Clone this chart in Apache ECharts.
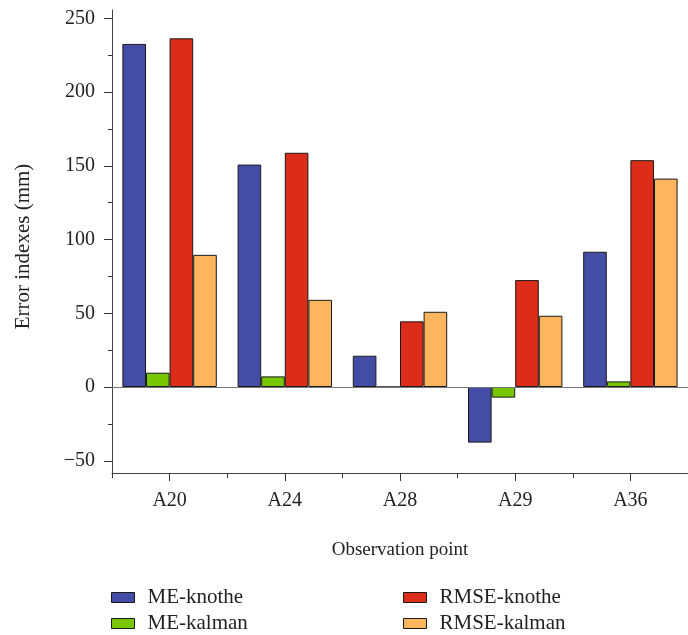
<!DOCTYPE html>
<html>
<head>
<meta charset="utf-8">
<script src="https://cdn.jsdelivr.net/npm/echarts@6/dist/echarts.min.js"></script>
<style>html,body{margin:0;padding:0;background:#fff}#c{width:688px;height:635px}</style>
</head>
<body>
<div id="c"></div>
<script>
var categories = ['A20', 'A24', 'A28', 'A29', 'A36'];
var meKnothe = [232.6, 150.8, 21.2, -37.7, 91.7];
var meKalman = [9.7, 7.2, 0, -7.2, 3.8];
var rmseKnothe = [236.4, 158.8, 44.5, 72.5, 153.8];
var rmseKalman = [89.6, 59.1, 51.0, 48.3, 141.3];
var seriesNames = ['ME-knothe', 'ME-kalman', 'RMSE-knothe', 'RMSE-kalman'];
var yTicks = [-50, 0, 50, 100, 150, 200, 250];
var yMinorTicks = [-25, 25, 75, 125, 175, 225];
var colors = ['#444DA6', '#77C600', '#DC2C1A', '#FFB55E'];

var font = 'Liberation Serif';
var textColor = '#222';

function barSeries(name, data, color, extra) {
  var s = {
    name: name,
    type: 'bar',
    data: data,
    barWidth: 23.6,
    barGap: '0%',
    itemStyle: { color: color, borderColor: '#1a1a1a', borderWidth: 1 }
  };
  if (extra) for (var k in extra) s[k] = extra[k];
  return s;
}

function legendCfg(names, left) {
  return {
    data: names,
    orient: 'vertical', left: left, top: 587, height: 48,
    padding: 0,
    itemWidth: 23, itemHeight: 10, itemGap: 5,
    icon: 'rect',
    itemStyle: { borderColor: '#1a1a1a', borderWidth: 1 },
    textStyle: { fontFamily: font, fontSize: 21, color: textColor, padding: [0, 0, 0, 8] }
  };
}

var chart = echarts.init(document.getElementById('c'), null, { renderer: 'canvas' });
chart.setOption({
  animation: false,
  backgroundColor: '#fff',
  textStyle: { fontFamily: font },
  color: colors,
  grid: { left: 112, top: 10, bottom: 162, right: -7, containLabel: false },
  legend: [
    legendCfg([seriesNames[0], seriesNames[1]], 111),
    legendCfg([seriesNames[2], seriesNames[3]], 403)
  ],
  xAxis: [
    {
      type: 'category',
      data: categories,
      position: 'bottom',
      name: 'Observation point',
      nameLocation: 'middle',
      nameGap: 68,
      nameTextStyle: { fontFamily: font, fontSize: 19, color: textColor },
      axisLine: { onZero: false, lineStyle: { color: '#444', width: 1 } },
      axisTick: { show: true, alignWithLabel: true, length: 8, lineStyle: { color: '#333', width: 1 } },
      axisLabel: { fontFamily: font, fontSize: 20, color: textColor, margin: 18 },
      splitLine: { show: false }
    },
    {
      type: 'category',
      data: categories,
      position: 'top',
      offset: -463,
      axisLine: { show: false },
      axisTick: { show: true, inside: true, length: 5, lineStyle: { color: '#333', width: 1 } },
      axisLabel: { show: false },
      splitLine: { show: false }
    }
  ],
  yAxis: [
    {
      type: 'value',
      min: -58.3,
      max: 255.6,
      name: 'Error indexes (mm)',
      nameLocation: 'middle',
      nameGap: 78,
      nameTextStyle: { fontFamily: font, fontSize: 21, color: textColor, padding: [0, 10, 0, 0] },
      axisLine: { show: true, lineStyle: { color: '#444', width: 1 } },
      axisTick: { show: true, length: 8, customValues: yTicks, lineStyle: { color: '#333' } },
      axisLabel: { fontFamily: font, fontSize: 20, color: textColor, margin: 17,
        customValues: yTicks,
        formatter: function (v) { return v < 0 ? '\u2212' + Math.abs(v) : String(v); } },
      splitLine: { show: false }
    },
    {
      type: 'value',
      min: -58.3,
      max: 255.6,
      position: 'left',
      offset: 0,
      axisLine: { show: false },
      axisTick: { show: true, length: 4, customValues: yMinorTicks, lineStyle: { color: '#333' } },
      axisLabel: { show: false, customValues: yMinorTicks },
      splitLine: { show: false }
    }
  ],
  series: [
    barSeries(seriesNames[0], meKnothe, colors[0], {
      markLine: {
        silent: true, symbol: 'none', label: { show: false },
        lineStyle: { color: '#777', type: 'solid', width: 1 },
        data: [{ yAxis: 0 }]
      }
    }),
    barSeries(seriesNames[1], meKalman, colors[1]),
    barSeries(seriesNames[2], rmseKnothe, colors[2]),
    barSeries(seriesNames[3], rmseKalman, colors[3])
  ]
});
</script>
</body>
</html>
